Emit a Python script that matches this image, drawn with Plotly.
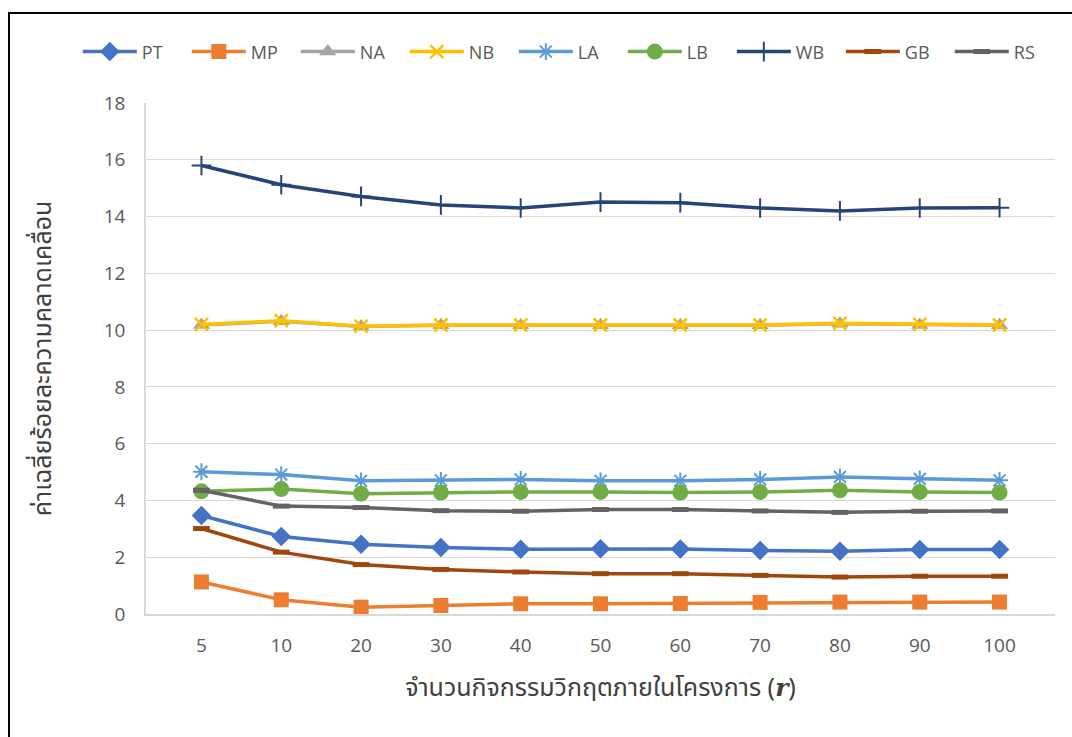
import plotly.graph_objects as go

# Number of critical activities in the project (category axis)
r_values = ["5", "10", "20", "30", "40", "50", "60", "70", "80", "90", "100"]

# Mean percentage error for each method
PT = [3.47, 2.73, 2.46, 2.34, 2.28, 2.30, 2.29, 2.24, 2.21, 2.27, 2.27]
MP = [1.13, 0.50, 0.24, 0.30, 0.36, 0.36, 0.37, 0.41, 0.42, 0.42, 0.42]
NA = [10.18, 10.31, 10.13, 10.17, 10.17, 10.17, 10.17, 10.17, 10.22, 10.18, 10.17]
NB = [10.20, 10.33, 10.14, 10.18, 10.18, 10.18, 10.18, 10.18, 10.24, 10.20, 10.18]
LA = [5.01, 4.91, 4.69, 4.71, 4.74, 4.69, 4.69, 4.74, 4.83, 4.76, 4.71]
LB = [4.32, 4.40, 4.24, 4.28, 4.30, 4.30, 4.28, 4.30, 4.36, 4.30, 4.28]
WB = [15.80, 15.12, 14.71, 14.41, 14.30, 14.51, 14.49, 14.30, 14.20, 14.30, 14.31]
GB = [3.01, 2.18, 1.74, 1.57, 1.48, 1.42, 1.42, 1.36, 1.30, 1.33, 1.33]
RS = [4.36, 3.80, 3.75, 3.64, 3.62, 3.68, 3.68, 3.63, 3.58, 3.62, 3.63]

y_ticks = [0, 2, 4, 6, 8, 10, 12, 14, 16, 18]

series = [
    ("PT", PT, "#4472C4", dict(symbol="diamond", size=15)),
    ("MP", MP, "#ED7D31", dict(symbol="square", size=15)),
    ("NA", NA, "#A5A5A5", dict(symbol="triangle-up", size=15)),
    ("NB", NB, "#FFC000", dict(symbol="x-thin", size=13, line=dict(width=2.5, color="#FFC000"))),
    ("LA", LA, "#5B9BD5", dict(symbol="asterisk", size=14, line=dict(width=2, color="#5B9BD5"))),
    ("LB", LB, "#70AD47", dict(symbol="circle", size=16)),
    ("WB", WB, "#264478", dict(symbol="cross-thin", size=14, line=dict(width=2, color="#264478"))),
    ("GB", GB, "#9E480E", dict(symbol="line-ew", size=12, line=dict(width=5, color="#9E480E"))),
    ("RS", RS, "#636363", dict(symbol="line-ew", size=12, line=dict(width=5, color="#636363"))),
]

fig = go.Figure()
for name, vals, color, marker in series:
    marker = dict(marker)
    marker.setdefault("color", color)
    fig.add_trace(go.Scatter(
        x=r_values, y=vals, name=name, mode="lines+markers",
        line=dict(color=color, width=3.5),
        marker=marker,
    ))

tick_font = dict(family="Open Sans, Liberation Sans, sans-serif", size=19, color="#595959")

fig.update_layout(
    width=1072, height=737,
    margin=dict(l=146, r=17, t=103, b=123, autoexpand=False),
    paper_bgcolor="white", plot_bgcolor="white",
    showlegend=True,
    legend=dict(
        orientation="h", x=-0.075, xanchor="left", y=1.10, yanchor="middle",
        font=dict(family="Open Sans, Liberation Sans, sans-serif", size=18, color="#595959"),
        entrywidth=40, entrywidthmode="pixels", itemwidth=54,
        bgcolor="rgba(0,0,0,0)",
    ),
    xaxis=dict(
        type="category", showgrid=False, showline=True, linecolor="#D9D9D9", linewidth=1.5,
        ticks="", tickfont=tick_font, ticklabelstandoff=13,
        title=dict(
            text="จำนวนกิจกรรมวิกฤตภายในโครงการ (<b><i><span style='font-family:DejaVu Serif'>r</span></i></b>)",
            font=dict(family="Noto Sans Thai, Noto Sans, sans-serif", size=25, color="#404040"),
            standoff=22,
        ),
    ),
    yaxis=dict(
        range=[0, 18], tickvals=y_ticks, showgrid=True, gridcolor="#D9D9D9", gridwidth=1.3,
        showline=True, linecolor="#D9D9D9", linewidth=1.5, zeroline=False,
        ticks="", tickfont=tick_font, ticklabelstandoff=15,
        title=dict(
            text="ค่าเฉลี่ยร้อยละความคลาดเคลื่อน",
            font=dict(family="Noto Sans Thai, Noto Sans, sans-serif", size=25, color="#404040"),
            standoff=45,
        ),
    ),
    shapes=[
        dict(type="path", xref="paper", yref="paper",
             path="M -0.1507,-0.3 L -0.1507,1.176 L 1.1,1.176",
             line=dict(color="black", width=2)),
    ],
)

fig.write_html("out.html")
